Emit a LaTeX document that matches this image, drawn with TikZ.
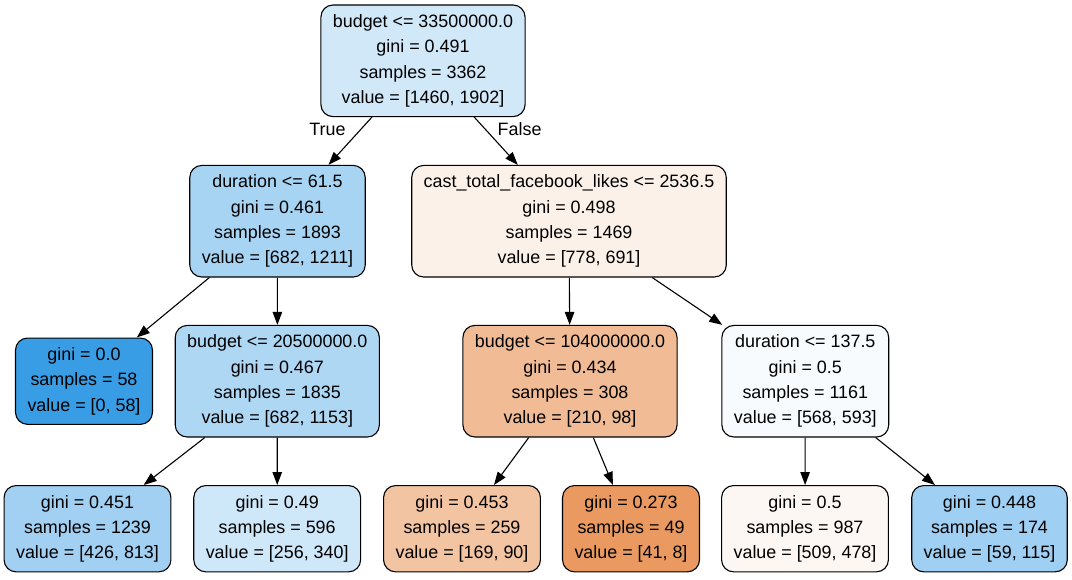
\documentclass[tikz,border=0pt]{standalone}
\usepackage{fontspec}
\setmainfont{Liberation Sans}
\usetikzlibrary{arrows.meta}
\definecolor{rootfill}{RGB}{209,232,249}
\definecolor{durafill}{RGB}{168,212,244}
\definecolor{castfill}{RGB}{252,241,233}
\definecolor{purefill}{RGB}{57,157,229}
\definecolor{budafill}{RGB}{174,215,244}
\definecolor{budbfill}{RGB}{241,188,149}
\definecolor{durbfill}{RGB}{247,251,254}
\definecolor{leafafill}{RGB}{161,208,243}
\definecolor{leafbfill}{RGB}{206,231,249}
\definecolor{leafcfill}{RGB}{243,196,162}
\definecolor{leafdfill}{RGB}{234,154,96}
\definecolor{leafefill}{RGB}{253,247,243}
\definecolor{leafffill}{RGB}{159,207,242}

\begin{document}
\begin{tikzpicture}[x=1pt, y=-1pt,
        treenode/.style={draw=black, line width=1.1pt, rounded corners=12pt, align=center,
            inner xsep=12pt, inner ysep=9.5pt, font=\fontsize{17.9}{25.3}\selectfont},
        treeedge/.style={-{Triangle[length=13pt, width=9.5pt]}, line width=1.1pt},
        edgelabel/.style={inner sep=2pt, font=\fontsize{17.9}{25.3}\selectfont}]
        \useasboundingbox (0, 0) rectangle (1072, 579);
        \node[treenode, fill=rootfill] (root) at (423, 60.8) {budget <= 33500000.0\\gini = 0.491\\samples = 3362\\value = [1460, 1902]};
        \node[treenode, fill=durafill] (dura) at (277.5, 221.2) {duration <= 61.5\\gini = 0.461\\samples = 1893\\value = [682, 1211]};
        \node[treenode, fill=castfill] (cast) at (569, 221.2) {cast\_total\_facebook\_likes <= 2536.5\\gini = 0.498\\samples = 1469\\value = [778, 691]};
        \node[treenode, fill=purefill] (pure) at (84, 381.2) {gini = 0.0\\samples = 58\\value = [0, 58]};
        \node[treenode, fill=budafill] (buda) at (277.3, 381.2) {budget <= 20500000.0\\gini = 0.467\\samples = 1835\\value = [682, 1153]};
        \node[treenode, fill=budbfill] (budb) at (570, 381.2) {budget <= 104000000.0\\gini = 0.434\\samples = 308\\value = [210, 98]};
        \node[treenode, fill=durbfill] (durb) at (805.3, 381.2) {duration <= 137.5\\gini = 0.5\\samples = 1161\\value = [568, 593]};
        \node[treenode, fill=leafafill] (leafa) at (87.5, 528.7) {gini = 0.451\\samples = 1239\\value = [426, 813]};
        \node[treenode, fill=leafbfill] (leafb) at (277.2, 528.7) {gini = 0.49\\samples = 596\\value = [256, 340]};
        \node[treenode, fill=leafcfill] (leafc) at (462, 528.7) {gini = 0.453\\samples = 259\\value = [169, 90]};
        \node[treenode, fill=leafdfill] (leafd) at (631, 528.7) {gini = 0.273\\samples = 49\\value = [41, 8]};
        \node[treenode, fill=leafefill] (leafe) at (805, 528.7) {gini = 0.5\\samples = 987\\value = [509, 478]};
        \node[treenode, fill=leafffill] (leaff) at (989.5, 528.7) {gini = 0.448\\samples = 174\\value = [59, 115]};
        \draw[treeedge] (root) -- node[edgelabel, pos=0.25, anchor=east, xshift=-13pt] (truelabel) {True} (dura);
        \draw[treeedge] (root) -- node[edgelabel, pos=0.25, anchor=west, xshift=10pt] (falselabel) {False} (cast);
        \draw[treeedge] (dura) -- (pure);
        \draw[treeedge] (dura) -- (buda);
        \draw[treeedge] (buda) -- (leafa);
        \draw[treeedge] (buda) -- (leafb);
        \draw[treeedge] (cast) -- (budb);
        \draw[treeedge] (cast) -- (durb);
        \draw[treeedge] (budb) -- (leafc);
        \draw[treeedge] (budb) -- (leafd);
        \draw[treeedge] (durb) -- (leafe);
        \draw[treeedge] (durb) -- (leaff);
\end{tikzpicture}
\end{document}
